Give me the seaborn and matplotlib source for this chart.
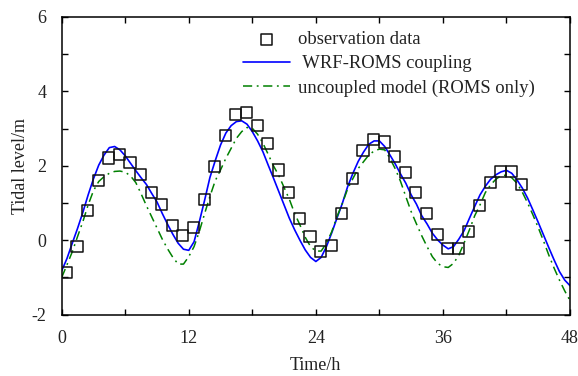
import matplotlib
matplotlib.use("Agg")
import matplotlib.pyplot as plt
from matplotlib.ticker import MultipleLocator
import seaborn as sns
import pandas as pd

# ---- data ----
obs_time = [0.45, 1.45, 2.45, 3.45, 4.45, 5.45, 6.45, 7.45, 8.45, 9.45, 10.45,
            11.45, 12.45, 13.45, 14.45, 15.45, 16.45, 17.45, 18.45, 19.45, 20.45,
            21.45, 22.45, 23.45, 24.45, 25.45, 26.45, 27.45, 28.45, 29.45, 30.45,
            31.45, 32.45, 33.45, 34.45, 35.45, 36.45, 37.45, 38.45, 39.45, 40.45,
            41.45, 42.45, 43.45]
obs_level = [-0.87, -0.16, 0.79, 1.60, 2.21, 2.31, 2.08, 1.76, 1.29, 0.97, 0.40,
             0.12, 0.34, 1.09, 1.98, 2.81, 3.38, 3.44, 3.09, 2.59, 1.89,
             1.29, 0.59, 0.11, -0.30, -0.13, 0.73, 1.65, 2.42, 2.72, 2.64,
             2.24, 1.81, 1.28, 0.71, 0.15, -0.21, -0.21, 0.24, 0.94, 1.56,
             1.85, 1.85, 1.51]

model_time = [0, 0.5, 1, 1.5, 2, 2.5, 3, 3.5, 4, 4.5, 5, 5.5, 6, 6.5, 7, 7.5,
              8, 8.5, 9, 9.5, 10, 10.5, 11, 11.5, 12, 12.5, 13, 13.5, 14, 14.5,
              15, 15.5, 16, 16.5, 17, 17.5, 18, 18.5, 19, 19.5, 20, 20.5, 21, 21.5,
              22, 22.5, 23, 23.5, 24, 24.5, 25, 25.5, 26, 26.5, 27, 27.5, 28, 28.5,
              29, 29.5, 30, 30.5, 31, 31.5, 32, 32.5, 33, 33.5, 34, 34.5, 35, 35.5,
              36, 36.5, 37, 37.5, 38, 38.5, 39, 39.5, 40, 40.5, 41, 41.5, 42, 42.5,
              43, 43.5, 44, 44.5, 45, 45.5, 46, 46.5, 47, 47.5, 48]

coupled_level = [-0.82, -0.49, -0.08, 0.32, 0.75, 1.22, 1.65, 2.02, 2.29, 2.49,
                 2.52, 2.43, 2.27, 2.07, 1.87, 1.68, 1.50, 1.26, 1.03, 0.72,
                 0.43, 0.16, -0.08, -0.24, -0.27, -0.04, 0.50, 1.08, 1.69, 2.14,
                 2.56, 2.88, 3.08, 3.19, 3.21, 3.12, 2.92, 2.67, 2.38, 2.02,
                 1.67, 1.31, 0.95, 0.59, 0.28, 0.00, -0.26, -0.46, -0.57, -0.46,
                 -0.17, 0.20, 0.60, 0.99, 1.44, 1.80, 2.12, 2.37, 2.58, 2.67,
                 2.67, 2.52, 2.29, 2.05, 1.78, 1.53, 1.22, 0.97, 0.66, 0.44,
                 0.19, 0.01, -0.13, -0.23, -0.17, 0.03, 0.26, 0.59, 0.91, 1.22,
                 1.45, 1.64, 1.76, 1.84, 1.88, 1.80, 1.62, 1.40, 1.13, 0.81,
                 0.48, 0.14, -0.20, -0.53, -0.84, -1.07, -1.22]

uncoupled_level = [-1.00, -0.66, -0.31, 0.10, 0.50, 0.95, 1.33, 1.58, 1.71, 1.80,
                   1.85, 1.86, 1.83, 1.73, 1.55, 1.25, 0.93, 0.63, 0.33, 0.03,
                   -0.23, -0.46, -0.64, -0.64, -0.44, -0.17, 0.24, 0.72, 1.18, 1.60,
                   1.89, 2.20, 2.47, 2.74, 2.92, 3.03, 3.01, 2.85, 2.61, 2.31,
                   2.00, 1.74, 1.42, 1.10, 0.72, 0.41, 0.08, -0.17, -0.29, -0.29,
                   -0.08, 0.23, 0.64, 0.99, 1.38, 1.66, 1.93, 2.11, 2.29, 2.40,
                   2.45, 2.43, 2.20, 1.92, 1.58, 1.17, 0.77, 0.44, 0.12, -0.17,
                   -0.44, -0.62, -0.71, -0.73, -0.62, -0.40, -0.07, 0.28, 0.66, 0.95,
                   1.28, 1.49, 1.64, 1.74, 1.75, 1.68, 1.53, 1.29, 1.00, 0.68,
                   0.34, -0.02, -0.40, -0.75, -1.07, -1.36, -1.62]

x_ticks = [0, 12, 24, 36, 48]
y_ticks = [-2, 0, 2, 4, 6]
labels = ["observation data", " WRF-ROMS coupling", "uncoupled model (ROMS only)"]

# ---- plotting ----
sns.set_theme(style="ticks")
plt.rcParams["font.family"] = ["Liberation Serif", "DejaVu Serif"]
plt.rcParams["axes.unicode_minus"] = False

fig = plt.figure(figsize=(5.78, 3.76), dpi=100)
ax = fig.add_axes([0.1067, 0.163, 0.8795, 0.7918])

df_obs = pd.DataFrame({"t": obs_time, "v": obs_level})
df_c = pd.DataFrame({"t": model_time, "v": coupled_level})
df_u = pd.DataFrame({"t": model_time, "v": uncoupled_level})

sns.lineplot(data=df_c, x="t", y="v", ax=ax, color="#0000ff", linewidth=1.2,
             estimator=None, sort=False, label=labels[1])
sns.lineplot(data=df_u, x="t", y="v", ax=ax, color="#008000", linewidth=1.1,
             estimator=None, sort=False, label=labels[2])
ax.lines[-1].set_dashes([6, 3, 1.2, 3])
sns.scatterplot(data=df_obs, x="t", y="v", ax=ax, marker="s", s=64,
                facecolor="none", edgecolor="#111111", linewidth=1.1,
                label=labels[0], zorder=3)

ax.set_xlim(0, 48)
ax.set_ylim(-2, 6)
ax.set_xticks(x_ticks)
ax.set_yticks(y_ticks)
ax.xaxis.set_minor_locator(MultipleLocator(6))
ax.yaxis.set_minor_locator(MultipleLocator(1))
ax.tick_params(which="both", direction="in", top=True, right=True,
               length=4, width=1.0, color="black", labelsize=13, pad=11,
               labelcolor="#222222")
for sp in ax.spines.values():
    sp.set_linewidth(1.1)
    sp.set_color("black")

ax.set_xlabel("Time/h", fontsize=13, color="#222222", labelpad=7)
ax.set_ylabel("Tidal level/m", fontsize=13, color="#222222", labelpad=2)

handles, labs = ax.get_legend_handles_labels()
order = [labs.index(l) for l in labels]
ax.legend([handles[i] for i in order], [labs[i] for i in order],
          loc="upper left", bbox_to_anchor=(0.357, 0.952), frameon=False,
          fontsize=13.4, borderaxespad=0, borderpad=0, handlelength=2.5,
          handletextpad=0.45, labelspacing=0.38, labelcolor="#222222")

fig.savefig("out.png", dpi=100)
